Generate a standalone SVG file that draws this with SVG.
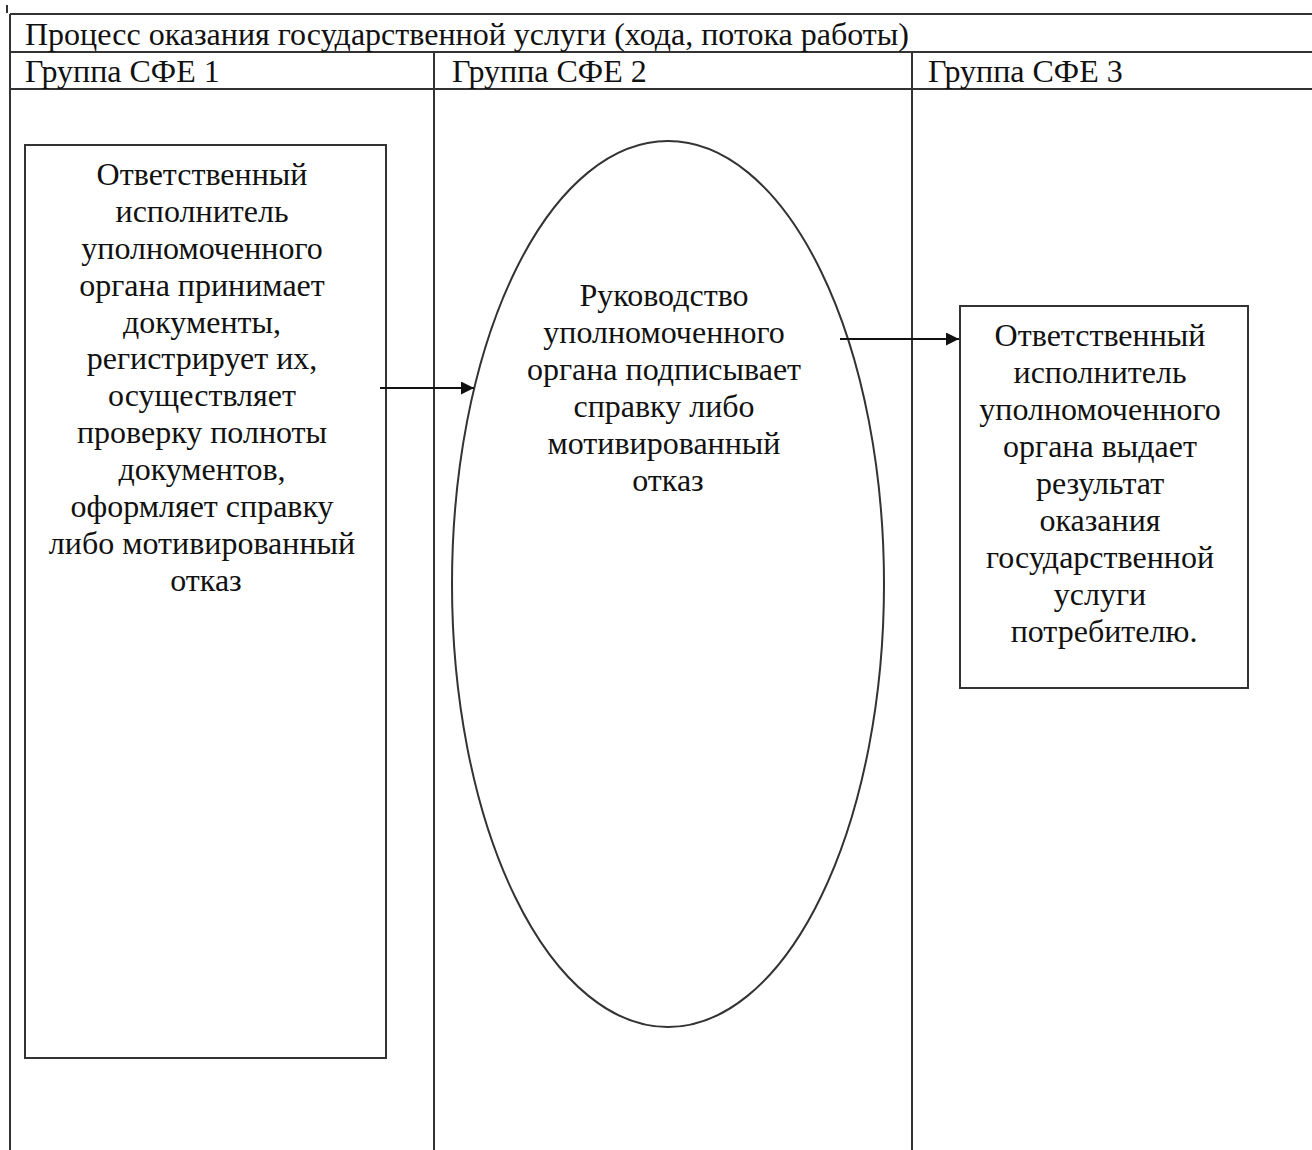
<svg xmlns="http://www.w3.org/2000/svg" width="1312" height="1150" viewBox="0 0 1312 1150">
<style>
.t{font-family:"Liberation Serif","Times New Roman",serif;font-size:32px;fill:#111}
.c{text-anchor:middle}
.ln{stroke:#333;stroke-width:2;fill:none}
.nd{stroke:#333;stroke-width:2;fill:#fff}
.ar{stroke:#111;stroke-width:1.8;fill:none}
</style>
<defs>
<marker id="ah" viewBox="0 0 10 10" refX="10" refY="5" markerWidth="14" markerHeight="13" markerUnits="userSpaceOnUse" orient="auto">
<path d="M0,0 L10,5 L0,10 z" fill="#111"/>
</marker>
</defs>
<rect width="1312" height="1150" fill="#fff"/>
<g id="table">
<line class="ln" x1="7" y1="5" x2="7" y2="13"/>
<line class="ln" x1="10" y1="14" x2="1312" y2="14"/>
<line class="ln" x1="10" y1="52" x2="1312" y2="52"/>
<line class="ln" x1="10" y1="89" x2="1312" y2="89"/>
<line class="ln" x1="10" y1="14" x2="10" y2="1150"/>
<line class="ln" x1="434" y1="52" x2="434" y2="1150"/>
<line class="ln" x1="912" y1="52" x2="912" y2="1150"/>
<text class="t" x="25" y="45">Процесс оказания государственной услуги (хода, потока работы)</text>
<text class="t" x="25" y="82">Группа СФЕ 1</text>
<text class="t" x="452" y="82">Группа СФЕ 2</text>
<text class="t" x="928" y="82">Группа СФЕ 3</text>
</g>
<g id="node1">
<rect class="nd" x="25" y="145" width="361" height="913"/>
<text class="t c" x="206">
<tspan x="206" y="185">Ответственный</tspan>
<tspan x="206" y="222">исполнитель</tspan>
<tspan x="206" y="259">уполномоченного</tspan>
<tspan x="206" y="296">органа принимает</tspan>
<tspan x="206" y="333">документы,</tspan>
<tspan x="206" y="369">регистрирует их,</tspan>
<tspan x="206" y="406">осуществляет</tspan>
<tspan x="206" y="443">проверку полноты</tspan>
<tspan x="206" y="480">документов,</tspan>
<tspan x="206" y="517">оформляет справку</tspan>
<tspan x="206" y="554">либо мотивированный</tspan>
<tspan x="206" y="591">отказ</tspan>
</text>
</g>
<g id="node2">
<ellipse class="nd" cx="668" cy="584" rx="216" ry="443" stroke-width="1.5"/>
<text class="t c" x="668">
<tspan x="668" y="306">Руководство</tspan>
<tspan x="668" y="343">уполномоченного</tspan>
<tspan x="668" y="380">органа подписывает</tspan>
<tspan x="668" y="417">справку либо</tspan>
<tspan x="668" y="454">мотивированный</tspan>
<tspan x="668" y="491">отказ</tspan>
</text>
</g>
<g id="node3">
<rect class="nd" x="960" y="306" width="288" height="382"/>
<text class="t c" x="1104">
<tspan x="1104" y="346">Ответственный</tspan>
<tspan x="1104" y="383">исполнитель</tspan>
<tspan x="1104" y="420">уполномоченного</tspan>
<tspan x="1104" y="457">органа выдает</tspan>
<tspan x="1104" y="494">результат</tspan>
<tspan x="1104" y="531">оказания</tspan>
<tspan x="1104" y="568">государственной</tspan>
<tspan x="1104" y="605">услуги</tspan>
<tspan x="1104" y="642">потребителю.</tspan>
</text>
</g>
<g id="connectors">
<line class="ar" x1="380" y1="388" x2="474" y2="388" marker-end="url(#ah)"/>
<line class="ar" x1="840" y1="339" x2="959" y2="339" marker-end="url(#ah)"/>
</g>
</svg>
